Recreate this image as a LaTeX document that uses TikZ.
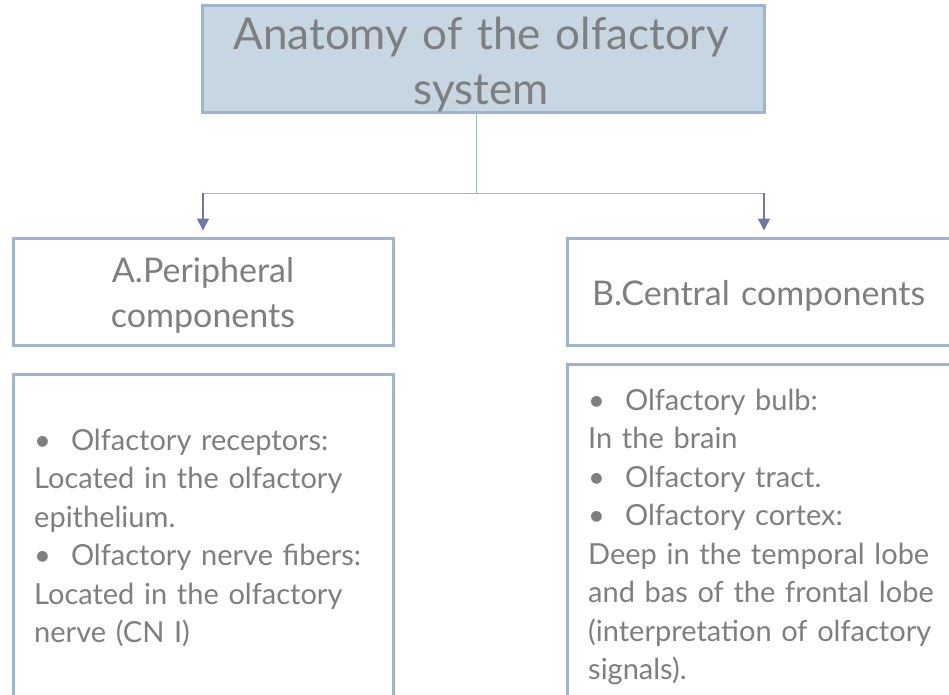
\documentclass[tikz,border=0pt]{standalone}
\usepackage{fontspec}
\setmainfont{Lato}
\usetikzlibrary{positioning,arrows.meta}
\definecolor{boxline}{HTML}{9DB5CE}
\definecolor{boxfill}{HTML}{C6D6E3}
\definecolor{txtgray}{HTML}{7F7F7F}
\definecolor{dropblue}{HTML}{6E78A8}
\begin{document}
\begin{tikzpicture}[
        x=1pt, y=-1pt,
        box/.style={draw=boxline, line width=3pt, fill=white, inner sep=0pt},
        titlebox/.style={box, fill=boxfill},
        head/.style={font=\fontsize{34}{45}\selectfont, text=txtgray, align=center, text width=#1, inner sep=0pt},
        body/.style={font=\fontsize{29}{38.5}\selectfont, text=txtgray, align=left, text width=#1, inner sep=0pt},
        link/.style={boxline, line width=1pt},
        drop/.style={dropblue, line width=1.5pt, -{Triangle[width=12pt,length=12pt]}}
    ]
        \useasboundingbox (0,0) rectangle (949,695);
        \clip (0,0) rectangle (949,695);

        % Title
        \node[titlebox, minimum width=562pt, minimum height=107pt] (top) at (483,59.5) {};
        \node[head=560pt, font=\fontsize{44}{55}\selectfont, anchor=base] (toptext) at (481,50)
            {Anatomy of the olfactory\\system};

        % Headings
        \node[box, minimum width=380pt, minimum height=107pt] (pera) at (203,291.5) {};
        \node[head=370pt, anchor=base] (peratext) at (203,282) {A.Peripheral\\components};
        \node[box, minimum width=394pt, minimum height=107pt] (perb) at (764,291.5) {};
        \node[head=370pt, align=left, anchor=base west] (perbtext) at (592,305) {B.Central components};

        % Contents
        \node[box, minimum width=380pt, minimum height=350pt, anchor=north] (lista) at (203,373) {};
        \node[body=355pt, anchor=base west] (listatext) at (34,450)
            {\textbullet\hspace{20pt}Olfactory receptors:\\
             Located in the olfactory\\
             epithelium.\\
             \textbullet\hspace{20pt}Olfactory nerve fibers:\\
             Located in the olfactory\\
             nerve (CN I)};
        \node[box, minimum width=394pt, minimum height=360pt, anchor=north] (listb) at (764,363) {};
        \node[body=360pt, anchor=base west] (listbtext) at (588,410)
            {\textbullet\hspace{20pt}Olfactory bulb:\\
             In the brain\\
             \textbullet\hspace{20pt}Olfactory tract.\\
             \textbullet\hspace{20pt}Olfactory cortex:\\
             Deep in the temporal lobe\\
             and bas of the frontal lobe\\
             (interpretation of olfactory\\
             signals).};

        % Connectors
        \coordinate (split) at (476,193);
        \draw[link] (top.south -| split) -- (split);
        \draw[link] (split -| pera.north) -- (split -| perb.north);
        \draw[drop] (split -| pera.north) -- ([yshift=6pt]pera.north);
        \draw[drop] (split -| perb.north) -- ([yshift=6pt]perb.north);
    \end{tikzpicture}
\end{document}
